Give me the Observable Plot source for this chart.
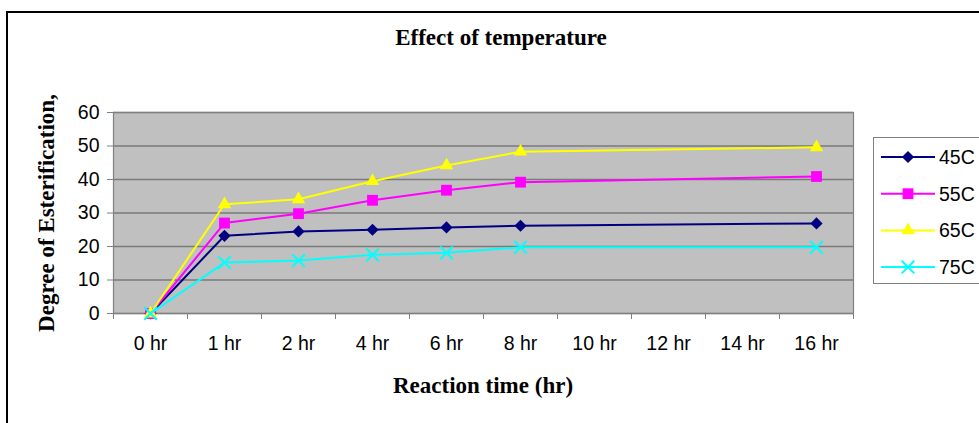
<!DOCTYPE html>
<html><head><meta charset="utf-8">
<script src="https://cdn.jsdelivr.net/npm/d3@7"></script>
<script src="https://cdn.jsdelivr.net/npm/@observablehq/plot@0.6"></script>
<style>
html,body{margin:0;padding:0;background:#fff;overflow:hidden;}
#wrap{position:relative;width:979px;height:423px;overflow:hidden;background:#fff;}
#border{position:absolute;left:6px;top:11px;width:2000px;height:2000px;border-left:2px solid #000;border-top:2px solid #000;}
.serif{font-family:"Liberation Serif","Times New Roman",serif;font-weight:bold;font-size:23px;line-height:23px;color:#000;position:absolute;white-space:nowrap;}
#title{left:501px;top:26px;transform:translateX(-50%);}
#xlabel{left:483px;top:374px;transform:translateX(-50%);}
#ylabel{left:46px;top:213px;transform:translate(-50%,-50%) rotate(-90deg);}
#chart{position:absolute;left:0;top:0;}
#legend{position:absolute;left:873px;top:137px;}
</style>
</head><body>
<div id="wrap">
  <div id="border"></div>
  <div id="chart"></div>
  <div class="serif" id="title">Effect of temperature</div>
  <div class="serif" id="xlabel">Reaction time (hr)</div>
  <div class="serif" id="ylabel">Degree of Esterification,</div>
  <div id="legend"></div>
</div>
<script>
// ---- data ----
const categories = ["0 hr","1 hr","2 hr","4 hr","6 hr","8 hr","10 hr","12 hr","14 hr","16 hr"];
const times = ["0 hr","1 hr","2 hr","4 hr","6 hr","8 hr","16 hr"];
const s45 = [0, 23.2, 24.5, 25.0, 25.7, 26.2, 26.9];
const s55 = [0, 27.0, 29.8, 33.8, 36.8, 39.2, 40.9];
const s65 = [0, 32.6, 34.1, 39.5, 44.2, 48.3, 49.6];
const s75 = [0, 15.2, 15.8, 17.5, 18.1, 19.8, 19.8];
const seriesNames = ["45C","55C","65C","75C"];
const yTicks = [0,10,20,30,40,50,60];

const seriesValues = [s45, s55, s65, s75];
const colors = ["#000080","#ff00ff","#ffff00","#00ffff"];
const symbols = ["diamond2","square","triangle","times"];
const symbolR = [5.5, 6.1, 5.0, 5.8];
const d3symbols = [d3.symbolDiamond2, d3.symbolSquare, d3.symbolTriangle, d3.symbolTimes];

const W = 979, H = 423;
const mL = 113, mR = 126, mT = 112, mB = 110;
const step = (W - mL - mR) / categories.length;

const marks = [
  Plot.frame({fill: "#c0c0c0", stroke: null}),
  Plot.gridY(yTicks, {stroke: "#7a7a7a", strokeOpacity: 1, strokeWidth: 1.5}),
  Plot.frame({stroke: "#808080", strokeWidth: 1.2}),
  Plot.axisY({ticks: yTicks, tickSize: 6, tickPadding: 8, stroke: "#808080", fill: "#000", label: null}),
  Plot.axisX({ticks: categories, tickSize: 0, tickPadding: 23, fill: "#000", label: null}),
  Plot.axisX({ticks: categories, tickSize: 6, tickFormat: () => "", dx: -step / 2, stroke: "#808080", label: null}),
  Plot.axisX({ticks: categories.slice(-1), tickSize: 6, tickFormat: () => "", dx: step / 2, stroke: "#808080", label: null})
];

seriesNames.forEach((name, i) => {
  const rows = times.map((t, j) => ({time: t, value: seriesValues[i][j]}));
  marks.push(Plot.line(rows, {x: "time", y: "value", stroke: colors[i], strokeWidth: 2}));
  if (symbols[i] === "times") {
    marks.push(Plot.dot(rows, {x: "time", y: "value", symbol: symbols[i], r: symbolR[i], stroke: colors[i], strokeWidth: 2, fill: "none"}));
  } else {
    marks.push(Plot.dot(rows, {x: "time", y: "value", symbol: symbols[i], r: symbolR[i], fill: colors[i], stroke: "none"}));
  }
});

const chart = Plot.plot({
  width: W, height: H,
  marginLeft: mL, marginRight: mR, marginTop: mT, marginBottom: mB,
  x: {type: "point", domain: categories, padding: 0.5, axis: null},
  y: {domain: [0, 60], axis: null},
  style: {fontFamily: '"Liberation Sans", Arial, sans-serif', fontSize: "19.5px", background: "transparent", color: "#000", overflow: "visible"},
  marks
});
document.getElementById("chart").appendChild(chart);

// ---- legend ----
const lw = 130, lh = 147;
const leg = d3.select("#legend").append("svg").attr("width", lw).attr("height", lh);
leg.append("rect").attr("x", 0.5).attr("y", 0.5).attr("width", lw).attr("height", lh - 1)
  .attr("fill", "#fff").attr("stroke", "#808080").attr("stroke-width", 1);
seriesNames.forEach((name, i) => {
  const y = 20 + i * 36.7;
  const g = leg.append("g");
  g.append("line").attr("x1", 8).attr("x2", 62).attr("y1", y).attr("y2", y)
    .attr("stroke", colors[i]).attr("stroke-width", 2);
  const p = g.append("path").attr("transform", `translate(35,${y})`)
    .attr("d", d3.symbol(d3symbols[i], Math.PI * symbolR[i] * symbolR[i])());
  if (symbols[i] === "times") p.attr("fill", "none").attr("stroke", colors[i]).attr("stroke-width", 2);
  else p.attr("fill", colors[i]);
  g.append("text").attr("x", 66).attr("y", y).attr("dy", "0.36em")
    .attr("font-family", '"Liberation Sans", Arial, sans-serif').attr("font-size", 19.5)
    .attr("fill", "#000").text(name);
});
</script>
</body></html>
